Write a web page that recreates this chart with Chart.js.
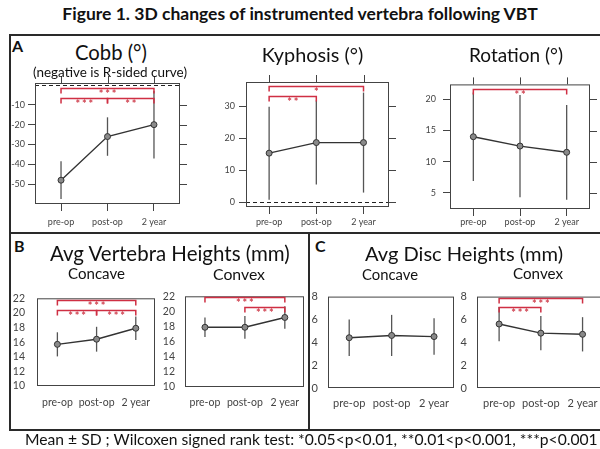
<!DOCTYPE html>
<html>
<head>
<meta charset="utf-8">
<script src="https://cdn.jsdelivr.net/npm/chart.js@4.4.1/dist/chart.umd.min.js"></script>
<style>
  html, body { margin: 0; padding: 0; background: #fff; }
  #fig { position: relative; width: 600px; height: 449px; overflow: hidden; background: #fff; font-family: Lato, sans-serif; color: #111; }
  #fig canvas { position: absolute; }
  .txt { position: absolute; white-space: nowrap; }
  .rule { position: absolute; background: #2a2a2a; }
  #title { position: absolute; left: 0; top: 4px; width: 600px; text-align: center; font: bold 17.5px Lato; line-height: 20px; }
  .tag { position: absolute; font: bold 16px Lato; line-height: 16px; }
</style>
</head>
<body>
<div id="fig">
  <div id="title">Figure 1. 3D changes of instrumented vertebra following VBT</div>
  <div class="tag" style="left:12px; top:38px;">A</div>
  <div class="tag" style="left:14px; top:238px;">B</div>
  <div class="tag" style="left:315px; top:238px;">C</div>
</div>
<script>
// time points shared by every panel
const timepoints = ['pre-op', 'post-op', '2 year'];

// A: Cobb, kyphosis, rotation (degrees) - mean and SD
const cobbMean = [-48, -26, -20];
const cobbSd = [9.5, 9.7, 17];
const cobbTicks = [-50, -40, -30, -20, -10];
const cobbSig = [[0, 2, -1.5, '***'], [0, 1, -6.5, '***'], [1, 2, -6.5, '**']];

const kyphosisMean = [15.3, 18.6, 18.6];
const kyphosisSd = [14.5, 13.1, 15.6];
const kyphosisTicks = [0, 10, 20, 30];
const kyphosisSig = [[0, 2, 36.2, '*'], [0, 1, 33, '**']];

const rotationMean = [14.0, 12.5, 11.5];
const rotationSd = [7.1, 8.2, 7.6];
const rotationTicks = [5, 10, 15, 20];
const rotationSig = [[0, 2, 21.7, '**']];

// B: average vertebra heights (mm)
const vertConcaveMean = [15.7, 16.4, 17.9];
const vertConcaveSd = [1.65, 1.7, 1.6];
const vertConvexMean = [17.9, 17.9, 19.2];
const vertConvexSd = [1.3, 1.5, 1.5];
const vertTicks = [10, 12, 14, 16, 18, 20, 22];
const vertConcaveSig = [[0, 2, 21.8, '***'], [0, 1, 20.4, '***'], [1, 2, 20.4, '***']];
const vertConvexSig = [[0, 2, 21.85, '***'], [1, 2, 20.6, '***']];

// C: average disc heights (mm)
const discConcaveMean = [4.4, 4.6, 4.5];
const discConcaveSd = [1.6, 1.8, 1.6];
const discConvexMean = [5.6, 4.8, 4.7];
const discConvexSd = [1.5, 1.5, 1.5];
const discTicks = [0, 2, 4, 6, 8];
const discConvexSig = [[0, 2, 7.9, '***'], [0, 1, 7.05, '***']];

const fig = document.getElementById('fig');

// error bars, zero line, frame, R-style outer ticks and significance brackets
const figureMarks = {
  id: 'figureMarks',
  beforeDatasetsDraw(chart, args, opts) {
    const { ctx, chartArea: a, scales: { x, y } } = chart;
    ctx.save();
    if (opts.zeroLine) {
      const y0 = Math.round(y.getPixelForValue(0)) + 0.5;
      ctx.setLineDash([4, 3]);
      ctx.strokeStyle = '#222';
      ctx.lineWidth = 1;
      ctx.beginPath(); ctx.moveTo(a.left, y0); ctx.lineTo(a.right, y0); ctx.stroke();
      ctx.setLineDash([]);
    }
    ctx.strokeStyle = '#555';
    ctx.lineWidth = 1.3;
    chart.data.datasets[0].data.forEach((p, i) => {
      const px = x.getPixelForValue(p.x);
      ctx.beginPath();
      ctx.moveTo(px, y.getPixelForValue(p.y + opts.sd[i]));
      ctx.lineTo(px, y.getPixelForValue(p.y - opts.sd[i]));
      ctx.stroke();
    });
    ctx.restore();
  },
  afterDraw(chart, args, opts) {
    const { ctx, chartArea: a, scales: { x, y } } = chart;
    ctx.save();
    ctx.strokeStyle = '#444';
    ctx.lineWidth = 1;
    ctx.strokeRect(a.left + 0.5, a.top + 0.5, a.right - a.left - 1, a.bottom - a.top - 1);
    if (opts.outerTicks) {
      ctx.beginPath();
      x.ticks.forEach(t => {
        const px = Math.round(x.getPixelForValue(t.value)) + 0.5;
        ctx.moveTo(px, a.top); ctx.lineTo(px, a.top - 7);
      });
      y.ticks.forEach(t => {
        const py = Math.round(y.getPixelForValue(t.value)) + 0.5;
        ctx.moveTo(a.right, py); ctx.lineTo(a.right + 7, py);
      });
      ctx.stroke();
    }
    (opts.brackets || []).forEach(([from, to, val, mark]) => {
      const x1 = x.getPixelForValue(from), x2 = x.getPixelForValue(to);
      const py = Math.round(y.getPixelForValue(val)) + 0.5;
      ctx.strokeStyle = '#cf2f43';
      ctx.lineWidth = 1.5;
      ctx.beginPath();
      ctx.moveTo(x1, py + 5); ctx.lineTo(x1, py); ctx.lineTo(x2, py); ctx.lineTo(x2, py + 5);
      ctx.stroke();
      ctx.fillStyle = '#d0404f';
      ctx.font = 'bold 11px Lato';
      ctx.textAlign = 'center';
      ctx.textBaseline = 'top';
      const cx = (x1 + x2) / 2;
      for (let k = 0; k < mark.length; k++) {
        ctx.fillText('*', cx + (k - (mark.length - 1) / 2) * 6.5, py);
      }
    });
    ctx.restore();
  }
};

function makeChart(spec) {
  const [l, t, r, b] = spec.box;
  const padL = 40, padT = 12, padR = 12, padB = 36;
  const cv = document.createElement('canvas');
  cv.width = r - l + padL + padR;
  cv.height = b - t + padT + padB;
  cv.style.left = (l - padL) + 'px';
  cv.style.top = (t - padT) + 'px';
  fig.appendChild(cv);

  const rStyle = !!spec.panelA;
  const tickLen = rStyle ? 7 : 0;
  const fs = spec.fontSize;
  const font = { family: 'Lato', size: fs };
  const grid = { display: rStyle, drawOnChartArea: false, drawTicks: rStyle, tickLength: tickLen, color: '#444' };

  new Chart(cv, {
    type: 'line',
    data: {
      datasets: [{
        data: spec.mean.map((v, i) => ({ x: i, y: v })),
        borderColor: '#333',
        borderWidth: 1.4,
        pointRadius: 3,
        pointBackgroundColor: '#8a8a8a',
        pointBorderColor: '#333',
        pointBorderWidth: 1
      }]
    },
    options: {
      responsive: false,
      animation: false,
      events: [],
      layout: { padding: { left: 0, top: padT, right: padR, bottom: 0 } },
      plugins: {
        legend: { display: false },
        tooltip: { enabled: false },
        figureMarks: { sd: spec.sd, brackets: spec.brackets, zeroLine: spec.zeroLine, outerTicks: rStyle }
      },
      scales: {
        x: {
          type: 'linear',
          min: spec.xRange[0],
          max: spec.xRange[1],
          afterBuildTicks: s => { s.ticks = timepoints.map((_, i) => ({ value: i })); },
          afterFit: s => { s.height = padB; },
          grid: grid,
          border: { display: false },
          ticks: {
            callback: v => timepoints[v],
            padding: spec.labelY - b - tickLen - fs * 0.6,
            font: font,
            color: '#444',
            maxRotation: 0,
            autoSkip: false
          }
        },
        y: {
          min: spec.yRange[0],
          max: spec.yRange[1],
          afterBuildTicks: s => { s.ticks = spec.ticks.map(v => ({ value: v })); },
          afterFit: s => { s.width = padL; },
          grid: grid,
          border: { display: false },
          ticks: { callback: v => String(v), padding: spec.yPad, font: font, color: '#444', autoSkip: false }
        }
      }
    },
    plugins: [figureMarks]
  });
}

// panel A
makeChart({ box: [35, 83, 180, 204], xRange: [-0.56, 2.56], yRange: [-60, 1], ticks: cobbTicks,
  mean: cobbMean, sd: cobbSd, brackets: cobbSig, zeroLine: true, panelA: true, fontSize: 9, labelY: 222.5, yPad: 3 });
makeChart({ box: [246, 82, 389, 207], xRange: [-0.49, 2.54], yRange: [-1.5, 37.5], ticks: kyphosisTicks,
  mean: kyphosisMean, sd: kyphosisSd, brackets: kyphosisSig, zeroLine: true, panelA: true, fontSize: 9, labelY: 222.5, yPad: 4 });
makeChart({ box: [450, 84, 590, 209], xRange: [-0.5, 2.5], yRange: [2.4, 22.4], ticks: rotationTicks,
  mean: rotationMean, sd: rotationSd, brackets: rotationSig, panelA: true, fontSize: 9, labelY: 222.5, yPad: 7 });

// panel B
makeChart({ box: [37, 292, 155, 386], xRange: [-0.52, 2.49], yRange: [10, 22], ticks: vertTicks,
  mean: vertConcaveMean, sd: vertConcaveSd, brackets: vertConcaveSig, fontSize: 10.5, labelY: 403, yPad: 12 });
makeChart({ box: [185, 292, 304, 387], xRange: [-0.5, 2.48], yRange: [10, 22], ticks: vertTicks,
  mean: vertConvexMean, sd: vertConvexSd, brackets: vertConvexSig, fontSize: 10.5, labelY: 403, yPad: 10 });

// panel C
makeChart({ box: [328, 292, 454, 388], xRange: [-0.5, 2.47], yRange: [0, 8], ticks: discTicks,
  mean: discConcaveMean, sd: discConcaveSd, brackets: [], fontSize: 11, labelY: 403, yPad: 10 });
makeChart({ box: [477, 292, 603, 388], xRange: [-0.53, 2.49], yRange: [0, 8], ticks: discTicks,
  mean: discConvexMean, sd: discConvexSd, brackets: discConvexSig, fontSize: 11, labelY: 403, yPad: 10 });

// panel frames
function rule(x, y, w, h) {
  const d = document.createElement('div');
  d.className = 'rule';
  Object.assign(d.style, { left: x + 'px', top: y + 'px', width: w + 'px', height: h + 'px' });
  fig.appendChild(d);
}
rule(9, 34, 600, 2);
rule(9, 34, 2, 397);
rule(9, 232, 600, 2);
rule(9, 429, 600, 2);
rule(308, 232, 2, 199);

// headings, scaled so each one spans its set width
function placeText(str, cx, cy, w) {
  const el = document.createElement('div');
  el.className = 'txt';
  el.textContent = str;
  el.style.font = '100px Lato';
  fig.appendChild(el);
  const size = 100 * w / el.getBoundingClientRect().width;
  el.style.font = size.toFixed(2) + 'px Lato';
  el.style.lineHeight = size.toFixed(2) + 'px';
  el.style.left = (cx - w / 2) + 'px';
  el.style.top = (cy - size / 2) + 'px';
}
placeText('Cobb (°)', 111, 52, 72);
placeText('(negative is R-sided curve)', 110, 73, 154);
placeText('Kyphosis (°)', 312.5, 55, 101.6);
placeText('Rotation (°)', 516, 55, 94);
placeText('Avg Vertebra Heights (mm)', 170, 253, 240);
placeText('Concave', 96.5, 274, 57);
placeText('Convex', 239, 274, 52);
placeText('Avg Disc Heights (mm)', 464, 253, 198);
placeText('Concave', 390, 274, 56);
placeText('Convex', 538, 274, 50);
placeText('Mean ± SD ; Wilcoxen signed rank test: *0.05<p<0.01, **0.01<p<0.001, ***p<0.001', 311.5, 440, 573);
</script>
</body>
</html>
